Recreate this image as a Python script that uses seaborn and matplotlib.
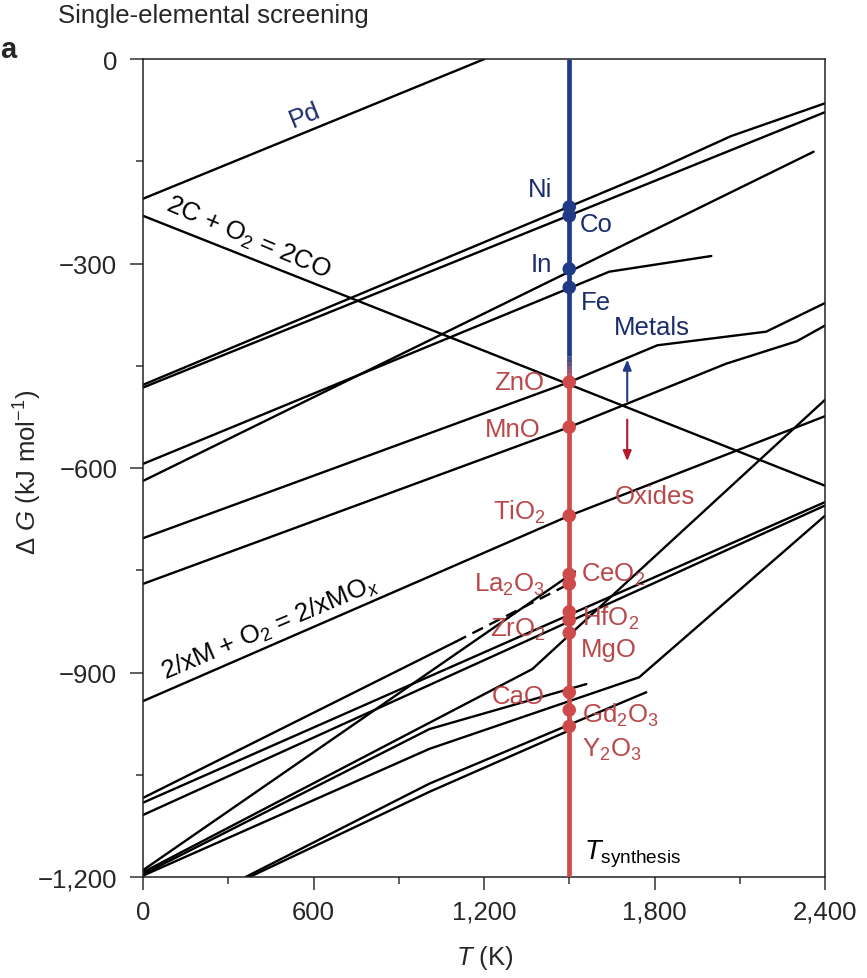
import matplotlib
matplotlib.use("Agg")
import matplotlib.pyplot as plt
from matplotlib.ticker import FixedLocator, FuncFormatter
from matplotlib.collections import LineCollection
import seaborn as sns
import pandas as pd
import numpy as np

# Ellingham lines: vertices (T in K, dG in kJ/mol O2)
pdo_T = [0, 1202]
pdo_G = [-205, 0]
co_gas_T = [0, 2400]
co_gas_G = [-230, -626]
nio_T = [0, 1790, 2070, 2400]
nio_G = [-478, -166, -113, -65]
coo_T = [0, 2400]
coo_G = [-482, -78]
in2o3_T = [0, 2360]
in2o3_G = [-619, -136]
feo_T = [0, 1641, 2000]
feo_G = [-594, -312, -289]
zno_T = [0, 1500, 1810, 2193, 2400]
zno_G = [-703, -474, -420, -400, -358]
mno_T = [0, 1500, 2052, 2301, 2400]
mno_G = [-770, -540, -447, -414, -391]
tio2_T = [0, 1500, 2400]
tio2_G = [-942, -670, -524]
la2o3_T = [0, 1100]
la2o3_G = [-1084, -855]
la2o3_dash_T = [1100, 1500]
la2o3_dash_G = [-855, -770]
hfo2_T = [0, 2400]
hfo2_G = [-1091, -650]
zro2_T = [0, 2400]
zro2_G = [-1109, -655]
ceo2_T = [0, 1520]
ceo2_G = [-1190, -752]
mgo_T = [0, 1370, 2400]
mgo_G = [-1193, -895, -500]
cao_T = [0, 1008, 1560]
cao_G = [-1196, -983, -917]
gd2o3_T = [0, 1008, 1746, 2400]
gd2o3_G = [-1198, -1012, -907, -670]
y2o3_T = [361, 1008, 1771]
y2o3_G = [-1200, -1063, -929]
y2o3b_T = [375, 1008, 1500]
y2o3b_G = [-1200, -1075, -985]

T_synth = 1500
metal_names = ["Ni", "Co", "In", "Fe"]
metal_dG = [-217, -230, -308, -335]
oxide_names = ["ZnO", "MnO", "TiO$_2$", "CeO$_2$", "La$_2$O$_3$", "HfO$_2$",
               "ZrO$_2$", "MgO", "CaO", "Gd$_2$O$_3$", "Y$_2$O$_3$"]
oxide_dG = [-474, -540, -670, -756, -770, -811, -823, -842, -929, -955, -979]

x_major = [0, 600, 1200, 1800, 2400]
x_minor = [300, 900, 1500, 2100]
y_major = [0, -300, -600, -900, -1200]
y_minor = [-150, -450, -750, -1050]

NAVY = "#1f3a87"
NAVY_TXT = "#1b2c6b"
RED = "#cf4b4b"
RED_TXT = "#b9484a"

sns.set_style("ticks")
plt.rcParams["font.family"] = ["Liberation Sans", "DejaVu Sans"]
plt.rcParams["mathtext.fontset"] = "custom"
plt.rcParams["mathtext.rm"] = "Liberation Sans"
plt.rcParams["mathtext.it"] = "Liberation Sans:italic"
plt.rcParams["mathtext.bf"] = "Liberation Sans:bold"

solid = [
    ("Pd", pdo_T, pdo_G), ("C", co_gas_T, co_gas_G), ("Ni", nio_T, nio_G),
    ("Co", coo_T, coo_G), ("In", in2o3_T, in2o3_G), ("Fe", feo_T, feo_G),
    ("Zn", zno_T, zno_G), ("Mn", mno_T, mno_G), ("Ti", tio2_T, tio2_G),
    ("La", la2o3_T, la2o3_G), ("Hf", hfo2_T, hfo2_G), ("Zr", zro2_T, zro2_G),
    ("Ce", ceo2_T, ceo2_G), ("Mg", mgo_T, mgo_G), ("Ca", cao_T, cao_G),
    ("Gd", gd2o3_T, gd2o3_G), ("Y", y2o3_T, y2o3_G), ("Yb", y2o3b_T, y2o3b_G),
]
rows = []
for name, ts, gs in solid:
    for t, g in zip(ts, gs):
        rows.append({"line": name, "T": t, "dG": g})
df = pd.DataFrame(rows)
dash_df = pd.DataFrame({"T": la2o3_dash_T, "dG": la2o3_dash_G})

fig = plt.figure(figsize=(8.67, 9.79), dpi=100)
ax = fig.add_axes([143 / 867, 1 - 878 / 979, (825 - 143) / 867, (878 - 60) / 979])

sns.lineplot(data=df, x="T", y="dG", units="line", estimator=None, sort=False,
             color="black", lw=1.7, ax=ax, legend=False)
sns.lineplot(data=dash_df, x="T", y="dG", sort=False, color="black", lw=1.7,
             ax=ax, legend=False, linestyle=(0, (5, 3)))

# T_synthesis line: blue (metals) fading into red (oxides)
ax.plot([T_synth, T_synth], [0, -436], color=NAVY, lw=3.4, zorder=4,
        solid_capstyle="butt")
ax.plot([T_synth, T_synth], [-470, -1200], color=RED, lw=3.4, zorder=4,
        solid_capstyle="butt")
edges = np.linspace(-436, -470, 41)
c0 = np.array(matplotlib.colors.to_rgb(NAVY))
c1 = np.array(matplotlib.colors.to_rgb(RED))
segs = [[(T_synth, edges[i]), (T_synth, edges[i + 1] - 0.6)] for i in range(len(edges) - 1)]
cols = [c0 * (1 - f) + c1 * f for f in np.linspace(0, 1, len(segs))]
ax.add_collection(LineCollection(segs, colors=cols, linewidths=3.4, zorder=4,
                                 capstyle="butt"))

sns.scatterplot(x=[T_synth] * len(metal_dG), y=metal_dG, color=NAVY, s=95,
                edgecolor="none", ax=ax, zorder=5)
sns.scatterplot(x=[T_synth] * len(oxide_dG), y=oxide_dG, color=RED, s=95,
                edgecolor="none", ax=ax, zorder=5)

fs = 18.5
# metal labels: (T, dG, ha)
metal_pos = [(1441, -191, "right"), (1538, -242, "left"),
             (1441, -301, "right"), (1542, -356, "left")]
for name, (t, g, ha) in zip(metal_names, metal_pos):
    ax.text(t, g, name, color=NAVY_TXT, fontsize=fs, ha=ha, va="center", zorder=6)
oxide_pos = [(1413, -474, "right"), (1400, -543, "right"), (1416, -663, "right"),
             (1542, -755, "left"), (1416, -770, "right"), (1545, -819, "left"),
             (1416, -836, "right"), (1542, -866, "left"), (1413, -934, "right"),
             (1545, -961, "left"), (1545, -1012, "left")]
for name, (t, g, ha) in zip(oxide_names, oxide_pos):
    ax.text(t, g, name, color=RED_TXT, fontsize=fs, ha=ha, va="center", zorder=6)

ax.text(1658, -393, "Metals", color=NAVY_TXT, fontsize=fs, ha="left", va="center")
ax.text(1660, -641, "Oxides", color=RED_TXT, fontsize=fs, ha="left", va="center")
ax.annotate("", xy=(1704, -437), xytext=(1704, -506),
            arrowprops=dict(arrowstyle="-|>,head_length=0.6,head_width=0.25",
                            color=NAVY, lw=1.5))
ax.annotate("", xy=(1704, -594), xytext=(1704, -525),
            arrowprops=dict(arrowstyle="-|>,head_length=0.6,head_width=0.25",
                            color="#b3192b", lw=1.5))
ax.text(1553, -1166, r"$T_{\mathrm{synthesis}}$", fontsize=fs + 1, ha="left",
        va="center", color="black")

# line labels
ax.text(569, -82, "Pd", color=NAVY_TXT, fontsize=fs, rotation=22,
        ha="center", va="center", rotation_mode="anchor")
ax.text(371, -261, "2C + O$_2$ = 2CO", color="black", fontsize=fs, rotation=-23,
        ha="center", va="center", rotation_mode="anchor")
ax.text(446, -833, "2/xM + O$_2$ = 2/xMO$_{x}$", color="black", fontsize=fs,
        rotation=23, ha="center", va="center", rotation_mode="anchor")

ax.set_xlim(0, 2400)
ax.set_ylim(-1200, 0)
ax.xaxis.set_major_locator(FixedLocator(x_major))
ax.xaxis.set_minor_locator(FixedLocator(x_minor))
ax.yaxis.set_major_locator(FixedLocator(y_major))
ax.yaxis.set_minor_locator(FixedLocator(y_minor))
fmt = FuncFormatter(lambda v, p: f"{int(round(v)):,}".replace("-", "\u2212"))
ax.xaxis.set_major_formatter(fmt)
ax.yaxis.set_major_formatter(fmt)
ax.tick_params(which="major", direction="out", length=9.5, width=1.1,
               labelsize=fs, color="#333333")
ax.tick_params(axis="x", which="major", pad=7)
ax.tick_params(axis="y", which="major", pad=9)
ax.tick_params(which="minor", direction="out", length=5, width=1.1, color="#333333")
for s in ax.spines.values():
    s.set_visible(True)
    s.set_linewidth(1.1)
    s.set_color("#222222")
ax.set_xlabel("")
ax.set_ylabel("")

fig.text(28 / 867, 1 - 472 / 979, r"$\Delta$ $G$ (kJ mol$^{-1}$)", rotation=90,
         fontsize=fs, ha="center", va="center")
fig.text(485 / 867, 1 - 958 / 979, r"$T$ (K)", fontsize=fs, ha="center", va="center")
fig.text(58 / 867, 1 - 16 / 979, "Single-elemental screening", fontsize=fs,
         ha="left", va="center")
fig.text(0.0, 1 - 50 / 979, "a", fontsize=21, fontweight="bold", ha="left",
         va="center")

fig.savefig("out.png", dpi=100)
plt.close(fig)
